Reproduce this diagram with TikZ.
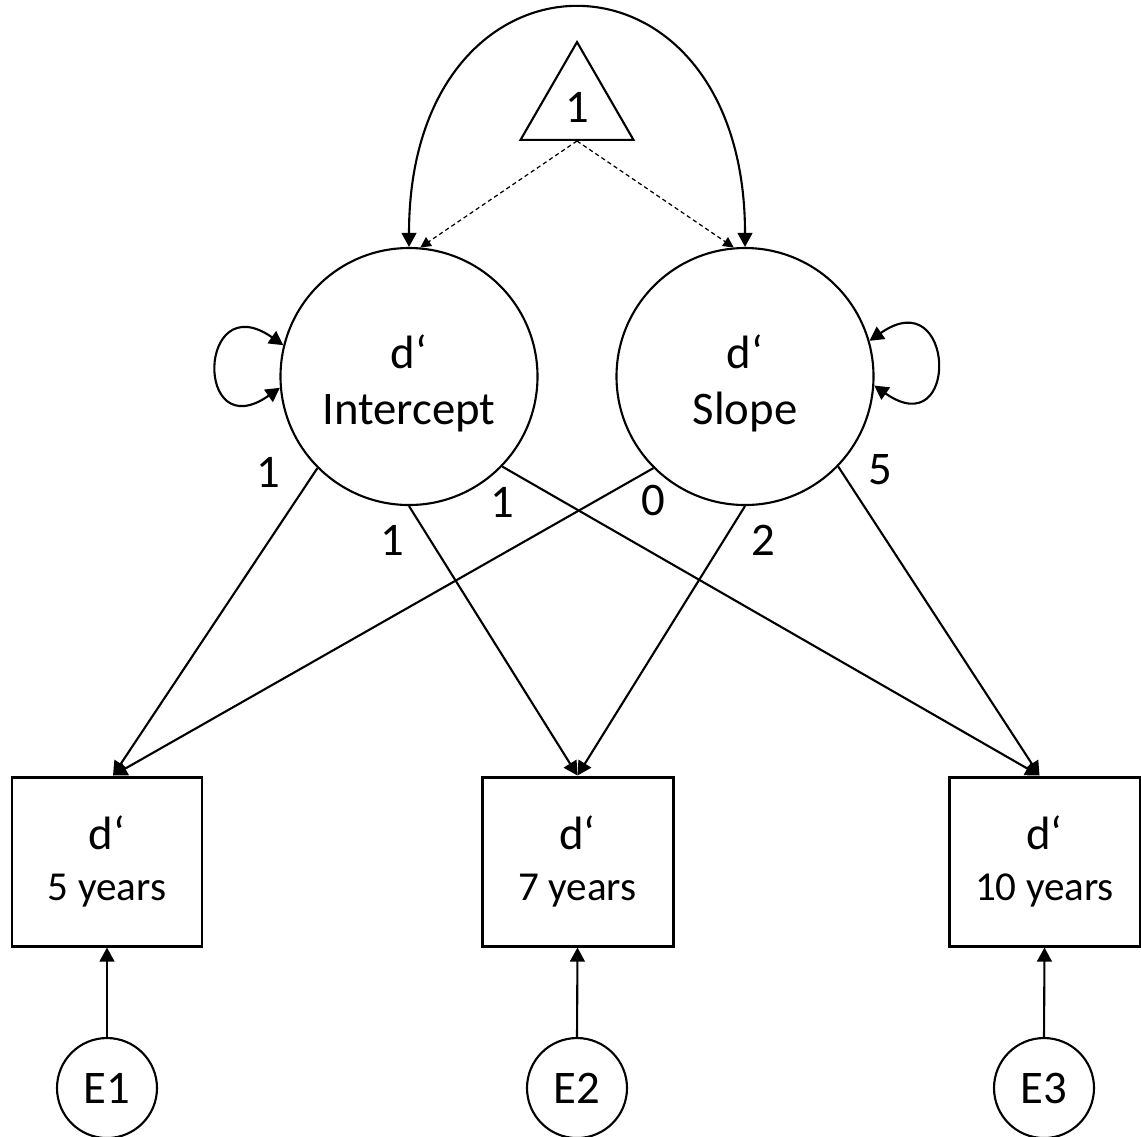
\documentclass[tikz,border=0pt]{standalone}
\usepackage{fontspec}
\setmainfont{Carlito}
\usetikzlibrary{arrows.meta,shapes.geometric}

\newcommand{\largeText}{\fontsize{13.3pt}{15.6pt}\selectfont}
\newcommand{\smallText}{\fontsize{11.7pt}{12pt}\selectfont}

\begin{document}
\begin{tikzpicture}[
    >={Triangle[length=4pt,width=4.2pt]},
    line width=0.6pt,
    latent/.style = {draw, circle, minimum size=2.57cm, inner sep=0pt, align=center, font=\largeText},
    observed/.style = {draw, rectangle, line width=0.85pt, minimum width=1.90cm, minimum height=1.69cm, inner sep=0pt, align=center, font=\smallText},
    residual/.style = {draw, circle, minimum size=1.0cm, inner sep=0pt, font=\largeText},
    constant/.style = {draw, regular polygon, regular polygon sides=3, minimum size=1.305cm, inner sep=0pt, font=\largeText},
    weight/.style = {font=\largeText, inner sep=0pt},
    meanpath/.style = {->, line width=0.35pt, dash pattern=on 1.2pt off 0.9pt, >={Triangle[length=3pt,width=3pt]}}
]
    % Fix the page size
    \useasboundingbox (0,0) rectangle (11.41,-11.36);

    % Constant
    \node[constant] (tri) at (5.77,-1.073) {1};

    % Latent growth factors
    \node[latent] (int) at (4.09,-3.765) {\rule{0pt}{13.5pt}d‘\\[0.4pt]Intercept};
    \node[latent] (slo) at (7.45,-3.765) {\rule{0pt}{13.5pt}d‘\\[0.4pt]Slope};

    % Observed measures
    \node[observed] (b5) at (1.07,-8.615) {{\largeText d‘}\\[2.6pt]5 years};
    \node[observed, minimum width=1.91cm] (b7) at (5.775,-8.615) {{\largeText d‘}\\[2.6pt]7 years};
    \node[observed, minimum width=1.91cm] (b10) at (10.445,-8.615) {{\largeText d‘}\\[2.6pt]10 years};

    % Residuals
    \node[residual] (e1) at (1.07,-10.88) {E1};
    \node[residual] (e2) at (5.77,-10.88) {E2};
    \node[residual] (e3) at (10.44,-10.88) {E3};

    % Covariance and variances
    \draw[<->] (int.north) .. controls +(0,3.17) and +(0,3.17) .. (slo.north);
    \draw[<->] (int.185) .. controls +(215:1.05) and +(145:1.05) .. (int.166);
    \draw[<->] (slo.-4) .. controls +(-35:1.05) and +(35:1.05) .. (slo.16);

    % Means
    \draw[meanpath] (tri.south) -- (int.85);
    \draw[meanpath] (tri.south) -- (slo.95);

    % Loadings
    \draw[->] (int.225) -- ([xshift=0.6mm]b5.north);
    \draw[->] (int.south) -- (b7.north);
    \draw[->] (int.-44) -- ([xshift=-0.5mm]b10.north);
    \draw[->] (slo.225) -- ([xshift=0.6mm]b5.north);
    \draw[->] (slo.south) -- (b7.north);
    \draw[->] (slo.-44) -- ([xshift=-0.5mm]b10.north);

    % Residual paths
    \draw[->] (e1.north) -- (b5.south);
    \draw[->] (e2.north) -- (b7.south);
    \draw[->] (e3.north) -- (b10.south);

    %Labels
    \node[weight] (w1) at (2.68,-4.72) {1};
    \node[weight] (w2) at (3.92,-5.40) {1};
    \node[weight] (w3) at (5.02,-5.02) {1};
    \node[weight] (w4) at (6.53,-5.00) {0};
    \node[weight] (w5) at (7.63,-5.40) {2};
    \node[weight] (w6) at (8.80,-4.70) {5};

\end{tikzpicture}
\end{document}
